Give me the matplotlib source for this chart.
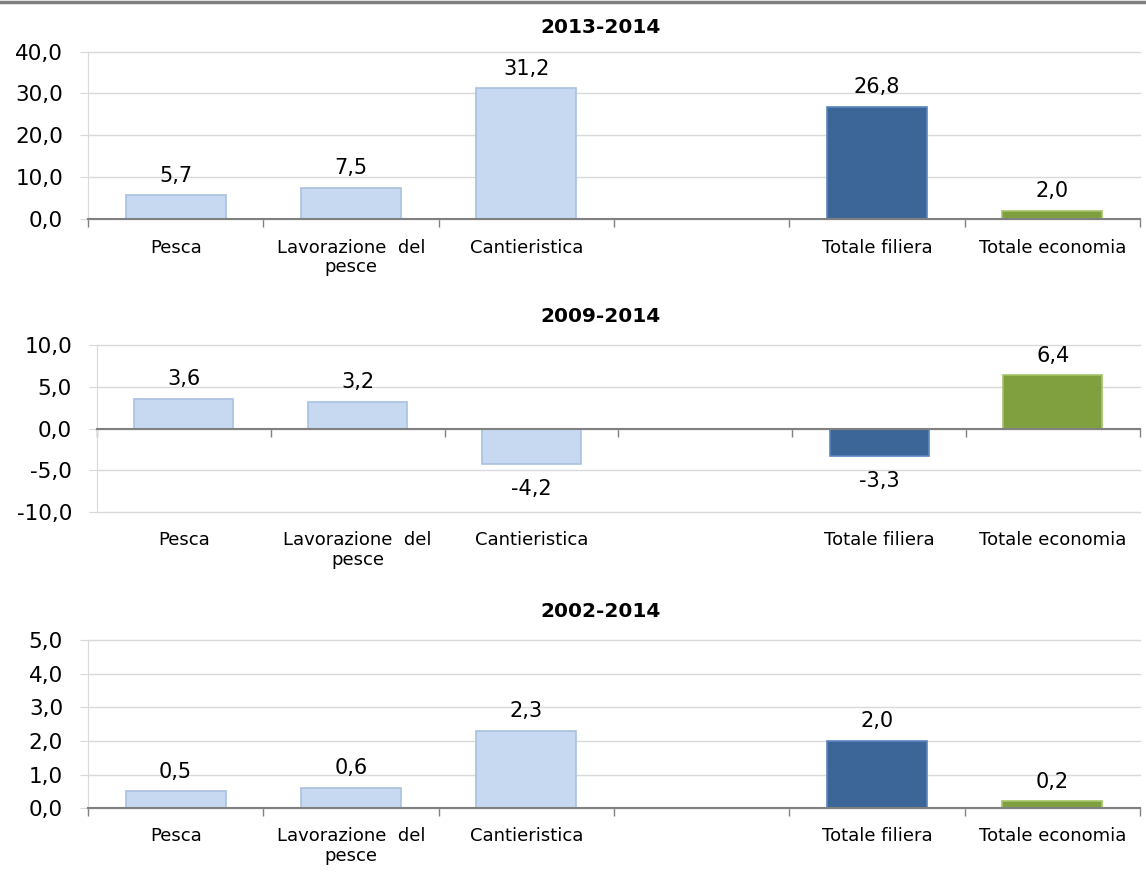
import matplotlib.pyplot as plt
from matplotlib.lines import Line2D

# dati
categorie = ['Pesca', 'Lavorazione  del\npesce', 'Cantieristica', '', 'Totale filiera', 'Totale economia']
periodi = ['2013-2014', '2009-2014', '2002-2014']
val_2013 = [5.7, 7.5, 31.2, None, 26.8, 2.0]
val_2009 = [3.6, 3.2, -4.2, None, -3.3, 6.4]
val_2002 = [0.5, 0.6, 2.3, None, 2.0, 0.2]
yticks_2013 = [0, 10, 20, 30, 40]
yticks_2009 = [-10, -5, 0, 5, 10]
yticks_2002 = [0, 1, 2, 3, 4, 5]

plt.rcParams['font.family'] = ['DejaVu Sans']

colori = ['#C6D9F1', '#C6D9F1', '#C6D9F1', 'none', '#3D6698', '#80A040']
bordi = ['#A9C1E0', '#A9C1E0', '#A9C1E0', 'none', '#5A86BF', '#A4C468']

fig = plt.figure(figsize=(11.46, 8.73), dpi=100)
fig.add_artist(Line2D([0, 1], [0.998, 0.998], color='#808080', lw=2.5))

# posizioni degli assi (frazioni della figura)
pannelli = [
    (val_2013, yticks_2013, [0.0768, 0.749, 0.918, 0.192], 0.968),
    (val_2009, yticks_2009, [0.0846, 0.4135, 0.910, 0.191], 0.637),
    (val_2002, yticks_2002, [0.0768, 0.0744, 0.918, 0.192], 0.299),
]

for (valori, yt, pos, ytit), periodo in zip(pannelli, periodi):
    ax = fig.add_axes(pos)
    for i, v in enumerate(valori):
        if v is None:
            continue
        ax.bar(i, v, width=0.57, color=colori[i], edgecolor=bordi[i], linewidth=1.2, zorder=3)
        if v >= 0:
            ax.annotate(f'{v:.1f}'.replace('.', ','), (i, v), xytext=(0, 7),
                        textcoords='offset points', ha='center', va='bottom', fontsize=15)
        else:
            ax.annotate(f'{v:.1f}'.replace('.', ','), (i, v), xytext=(0, -11),
                        textcoords='offset points', ha='center', va='top', fontsize=15)
    ax.set_xlim(-0.5, 5.5)
    ax.set_ylim(yt[0], yt[-1])
    ax.set_yticks(yt)
    ax.set_yticklabels([f'{t:.1f}'.replace('.', ',') for t in yt], fontsize=15.5)
    ax.yaxis.grid(True, color='#D9D9D9', lw=1, zorder=0)
    for gl in ax.get_ygridlines():
        gl.set_clip_on(False)
    ax.set_xticks([x - 0.5 for x in range(7)])
    ax.set_xticklabels([])
    ax.tick_params(axis='x', length=6, color='#808080', width=1)
    ax.tick_params(axis='y', length=6, color='#D9D9D9', pad=12)
    ax.spines['bottom'].set_position(('data', 0))
    ax.spines['bottom'].set_color('#808080')
    ax.spines['bottom'].set_linewidth(1.5)
    ax.spines['bottom'].set_zorder(4)
    ax.spines['left'].set_color('#D9D9D9')
    ax.spines['top'].set_visible(False)
    ax.spines['right'].set_visible(False)
    for i, c in enumerate(categorie):
        ax.annotate(c, (i, 0), xycoords=('data', 'axes fraction'), xytext=(0, -14),
                    textcoords='offset points', ha='center', va='top', fontsize=13,
                    linespacing=1.1)
    fig.text(0.524, ytit, periodo, ha='center', va='center', fontsize=14.5, fontweight='bold')

fig.savefig('out.png', dpi=100)
